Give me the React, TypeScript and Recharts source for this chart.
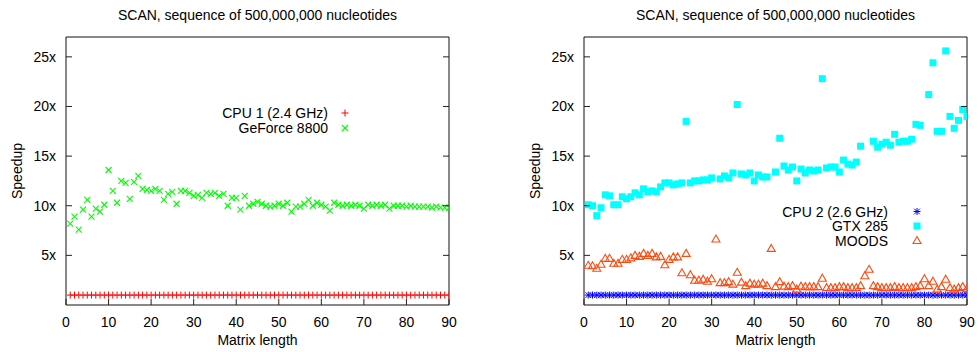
import React from 'react';
import { ScatterChart, Scatter, XAxis, YAxis, ReferenceArea } from 'recharts';

// ---------------- data ----------------
const matrixLengths = [
  1, 2, 3, 4, 5, 6, 7, 8, 9, 10, 11, 12, 13, 14, 15, 16, 17, 18, 19, 20,
  21, 22, 23, 24, 25, 26, 27, 28, 29, 30, 31, 32, 33, 34, 35, 36, 37, 38, 39, 40,
  41, 42, 43, 44, 45, 46, 47, 48, 49, 50, 51, 52, 53, 54, 55, 56, 57, 58, 59, 60,
  61, 62, 63, 64, 65, 66, 67, 68, 69, 70, 71, 72, 73, 74, 75, 76, 77, 78, 79, 80,
  81, 82, 83, 84, 85, 86, 87, 88, 89, 90,
];

const cpu1Speedup = [
  1, 1, 1, 1, 1, 1, 1, 1, 1, 1, 1, 1, 1, 1, 1, 1, 1, 1, 1, 1,
  1, 1, 1, 1, 1, 1, 1, 1, 1, 1, 1, 1, 1, 1, 1, 1, 1, 1, 1, 1,
  1, 1, 1, 1, 1, 1, 1, 1, 1, 1, 1, 1, 1, 1, 1, 1, 1, 1, 1, 1,
  1, 1, 1, 1, 1, 1, 1, 1, 1, 1, 1, 1, 1, 1, 1, 1, 1, 1, 1, 1,
  1, 1, 1, 1, 1, 1, 1, 1, 1, 1,
];

const geforce8800Speedup = [
  8.2, 8.9, 7.6, 9.6, 10.6, 8.9, 9.7, 9.4, 10.1, 13.6,
  11.5, 10.3, 12.5, 12.3, 10.7, 12.4, 13.0, 11.7, 11.6, 11.5,
  11.7, 11.5, 10.6, 11.2, 11.4, 10.2, 11.5, 11.5, 11.3, 11.0,
  11.1, 10.8, 11.3, 11.2, 11.3, 11.0, 11.2, 10.0, 10.8, 10.8,
  9.6, 11.0, 10.0, 10.2, 10.4, 10.2, 10.0, 9.9, 10.0, 10.2,
  10.0, 10.3, 9.4, 9.9, 9.9, 10.2, 10.6, 10.0, 10.3, 10.1,
  9.9, 9.5, 10.3, 10.1, 10.0, 10.1, 10.0, 10.1, 10.0, 9.7,
  10.1, 10.0, 10.1, 10.0, 10.1, 9.7, 10.0, 10.0, 10.0, 9.9,
  10.0, 9.9, 9.9, 9.9, 9.9, 9.8, 9.9, 9.8, 9.8, 9.8,
];

const cpu2Speedup = [
  1, 1, 1, 1, 1, 1, 1, 1, 1, 1, 1, 1, 1, 1, 1, 1, 1, 1, 1, 1,
  1, 1, 1, 1, 1, 1, 1, 1, 1, 1, 1, 1, 1, 1, 1, 1, 1, 1, 1, 1,
  1, 1, 1, 1, 1, 1, 1, 1, 1, 1, 1, 1, 1, 1, 1, 1, 1, 1, 1, 1,
  1, 1, 1, 1, 1, 1, 1, 1, 1, 1, 1, 1, 1, 1, 1, 1, 1, 1, 1, 1,
  1, 1, 1, 1, 1, 1, 1, 1, 1, 1,
];

const gtx285Speedup: (number | null)[] = [
  10.1, 10.0, 9.0, 9.8, 11.1, 11.0, 10.1, 10.1, 10.9, 10.7,
  10.9, 11.3, 11.1, 11.7, 11.4, 11.5, 11.4, 11.9, 12.3, 12.3,
  12.1, 12.2, 12.3, 18.5, 12.3, 12.5, 12.5, 12.6, 12.6, 12.8,
  null, 12.7, 13.0, 12.8, 13.3, 20.2, 13.2, 13.1, 13.3, 12.5,
  13.1, 12.9, 12.9, null, 13.4, 16.8, 14.0, 13.6, 13.9, 12.5,
  13.7, 13.3, 13.6, 13.5, 13.6, 22.8, 13.8, 13.9, 13.9, 13.4,
  14.6, 14.2, 14.1, 14.4, 16.0, null, null, 16.5, 15.9, 16.2,
  16.4, 16.1, 17.2, 16.4, 16.5, 16.5, 16.7, 18.2, 18.1, null,
  21.2, 24.4, 17.5, 17.5, 25.6, 19.0, 17.8, 18.6, 19.7, 19.0,
];

const moodsSpeedup = [
  4.0, 3.95, 3.7, 4.1, 4.7, 4.7, 4.2, 4.2, 4.6, 4.6,
  4.75, 5.0, 4.9, 5.2, 5.0, 5.2, 4.85, 4.9, 4.05, 4.6,
  4.85, 4.85, 3.25, 5.2, 3.05, 2.5, 2.5, 2.6, 2.4, 2.65,
  6.65, 2.25, 2.25, 2.35, 2.1, 3.3, 2.3, 1.95, 2.2, 2.1,
  2.1, 2.2, 1.95, 5.7, 1.85, 2.35, 1.9, 1.85, 1.95, 1.6,
  1.9, 1.85, 1.85, 1.85, 1.85, 2.7, 1.75, 1.75, 1.75, 1.85,
  1.85, 1.75, 1.75, 1.75, 1.95, 2.95, 3.6, 1.95, 1.85, 1.75,
  1.75, 1.75, 1.85, 1.75, 1.75, 1.75, 1.75, 1.85, 1.95, 2.65,
  1.95, 2.4, 1.6, 1.85, 2.6, 1.75, 1.6, 1.75, 1.85, 1.65,
];

const xTicks = [0, 10, 20, 30, 40, 50, 60, 70, 80, 90];
const yTicks = [5, 10, 15, 20, 25];
const xDomain: [number, number] = [0, 90];
const yDomain: [number, number] = [0, 27];

const chartTitle = 'SCAN, sequence of 500,000,000 nucleotides';
const xLabel = 'Matrix length';
const yLabel = 'Speedup';

// ---------------- layout ----------------
const W = 490;
const H = 352;
const PLOT_L = 66;
const PLOT_R = 449;
const PLOT_T = 37;
const PLOT_B = 305;
const FONT = '"Liberation Sans", Arial, Helvetica, sans-serif';
const TICK_LEN = 6;

const toPoints = (vals: (number | null)[]) =>
  matrixLengths
    .map((x, i) => ({ x, y: vals[i] }))
    .filter((p) => p.y !== null && p.y !== undefined);

// ---------------- marker shapes ----------------
const RED = '#ff0000';
const GREEN = '#00ff00';
const BLUE = '#0000ff';
const CYAN = '#00ffff';
const ORANGE = '#ff4a10';

const PlusMark = ({ cx, cy }: any) => (
  <g stroke={RED} strokeWidth={1}>
    <line x1={cx - 3.5} x2={cx + 3.5} y1={cy} y2={cy} />
    <line x1={cx} x2={cx} y1={cy - 3.5} y2={cy + 3.5} />
  </g>
);
const CrossMark = ({ cx, cy }: any) => (
  <g stroke={GREEN} strokeWidth={1.1}>
    <line x1={cx - 3} x2={cx + 3} y1={cy - 3} y2={cy + 3} />
    <line x1={cx - 3} x2={cx + 3} y1={cy + 3} y2={cy - 3} />
  </g>
);
const StarMark = ({ cx, cy }: any) => (
  <g stroke={BLUE} strokeWidth={1}>
    <line x1={cx - 3.5} x2={cx + 3.5} y1={cy} y2={cy} />
    <line x1={cx} x2={cx} y1={cy - 3.5} y2={cy + 3.5} />
    <line x1={cx - 2.8} x2={cx + 2.8} y1={cy - 2.8} y2={cy + 2.8} />
    <line x1={cx - 2.8} x2={cx + 2.8} y1={cy + 2.8} y2={cy - 2.8} />
  </g>
);
const SquareMark = ({ cx, cy }: any) => (
  <rect x={cx - 3.5} y={cy - 3.5} width={7} height={7} fill={CYAN} />
);
const TriangleMark = ({ cx, cy }: any) => (
  <path
    d={`M${cx},${cy - 4} L${cx + 4},${cy + 3} L${cx - 4},${cy + 3} Z`}
    fill="none"
    stroke={ORANGE}
    strokeWidth={1.1}
  />
);

// ---------------- ticks ----------------
const XTick = ({ x, payload }: any) => (
  <g>
    <line x1={x} x2={x} y1={PLOT_B} y2={PLOT_B - TICK_LEN} stroke="#222" strokeWidth={1} />
    <text x={x} y={327} textAnchor="middle" fontFamily={FONT} fontSize={14} fill="#000">
      {payload.value}
    </text>
  </g>
);
const YTick = ({ y, payload }: any) => (
  <g>
    <line x1={PLOT_L} x2={PLOT_L + TICK_LEN} y1={y} y2={y} stroke="#222" strokeWidth={1} />
    <line x1={PLOT_R - TICK_LEN} x2={PLOT_R} y1={y} y2={y} stroke="#222" strokeWidth={1} />
    <text x={56} y={y + 5} textAnchor="end" fontFamily={FONT} fontSize={14} fill="#000">
      {`${payload.value}x`}
    </text>
  </g>
);

type SeriesDef = {
  name: string;
  points: { x: number; y: number | null }[];
  shape: (p: any) => React.ReactElement;
};

const Panel = ({
  left,
  series,
  legendTextX,
  legendMarkX,
  legendBaselines,
}: {
  left: number;
  series: SeriesDef[];
  legendTextX: number;
  legendMarkX: number;
  legendBaselines: number[];
}) => (
  <div style={{ position: 'absolute', left, top: 0, width: W, height: H }}>
    <ScatterChart width={W} height={H} margin={{ top: PLOT_T, right: W - PLOT_R, bottom: 0, left: 0 }}>
      <XAxis
        type="number"
        dataKey="x"
        domain={xDomain}
        ticks={xTicks}
        interval={0}
        allowDataOverflow
        axisLine={false}
        tickLine={false}
        tick={<XTick />}
        height={H - PLOT_B}
      />
      <YAxis
        type="number"
        dataKey="y"
        domain={yDomain}
        ticks={yTicks}
        interval={0}
        allowDataOverflow
        axisLine={false}
        tickLine={false}
        tick={<YTick />}
        width={PLOT_L}
      />
      <ReferenceArea
        x1={xDomain[0]}
        x2={xDomain[1]}
        y1={yDomain[0]}
        y2={yDomain[1]}
        fill="none"
        fillOpacity={0}
        stroke="#111"
        strokeWidth={1}
        ifOverflow="visible"
      />
      {series.map((s) => (
        <Scatter
          key={s.name}
          name={s.name}
          data={s.points}
          shape={s.shape}
          isAnimationActive={false}
        />
      ))}
    </ScatterChart>
    <svg
      width={W}
      height={H}
      style={{ position: 'absolute', left: 0, top: 0, pointerEvents: 'none' }}
    >
      <text
        x={(PLOT_L + PLOT_R) / 2}
        y={20}
        textAnchor="middle"
        fontFamily={FONT}
        fontSize={14}
        fill="#000"
        textLength={279}
        lengthAdjust="spacing"
      >
        {chartTitle}
      </text>
      <text
        x={(PLOT_L + PLOT_R) / 2}
        y={345}
        textAnchor="middle"
        fontFamily={FONT}
        fontSize={14}
        fill="#000"
      >
        {xLabel}
      </text>
      <text
        x={22}
        y={(PLOT_T + PLOT_B) / 2}
        textAnchor="middle"
        fontFamily={FONT}
        fontSize={14}
        fill="#000"
        transform={`rotate(-90, 22, ${(PLOT_T + PLOT_B) / 2})`}
      >
        {yLabel}
      </text>
      {series.map((s, i) => (
        <g key={s.name}>
          <text
            x={legendTextX}
            y={legendBaselines[i]}
            textAnchor="end"
            fontFamily={FONT}
            fontSize={14}
            fill="#000"
          >
            {s.name}
          </text>
          {s.shape({ cx: legendMarkX, cy: legendBaselines[i] - 5 })}
        </g>
      ))}
    </svg>
  </div>
);

export default function App() {
  const leftSeries: SeriesDef[] = [
    { name: 'CPU 1 (2.4 GHz)', points: toPoints(cpu1Speedup), shape: PlusMark },
    { name: 'GeForce 8800', points: toPoints(geforce8800Speedup), shape: CrossMark },
  ];
  const rightSeries: SeriesDef[] = [
    { name: 'CPU 2 (2.6 GHz)', points: toPoints(cpu2Speedup), shape: StarMark },
    { name: 'GTX 285', points: toPoints(gtx285Speedup), shape: SquareMark },
    { name: 'MOODS', points: toPoints(moodsSpeedup), shape: TriangleMark },
  ];
  return (
    <div style={{ position: 'absolute', left: 0, top: 0, width: 979, height: 352, background: '#fff' }}>
      <Panel
        left={0}
        series={leftSeries}
        legendTextX={328}
        legendMarkX={345}
        legendBaselines={[118, 133]}
      />
      <Panel
        left={518}
        series={rightSeries}
        legendTextX={370}
        legendMarkX={399}
        legendBaselines={[216.5, 231, 245.5]}
      />
    </div>
  );
}
